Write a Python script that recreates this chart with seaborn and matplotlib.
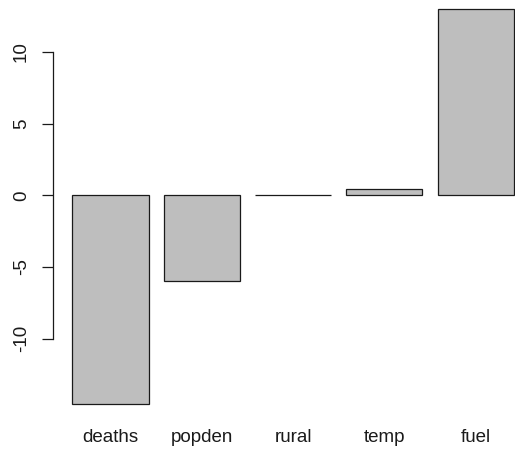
import matplotlib
matplotlib.use("Agg")
import matplotlib.pyplot as plt
import seaborn as sns
import pandas as pd

categories = ["deaths", "popden", "rural", "temp", "fuel"]
values = [-14.55, -6.0, 0.0, 0.42, 13.0]
yticks = [-10, -5, 0, 5, 10]

df = pd.DataFrame({"var": categories, "coef": values})

sns.set_style("white")
plt.rcParams["font.family"] = ["Liberation Sans", "DejaVu Sans"]

W, H = 515, 450
fig = plt.figure(figsize=(W / 100, H / 100), dpi=100)
axes_bottom_px = 415
ax = fig.add_axes([0, (H - axes_bottom_px) / H, 1, axes_bottom_px / H])

sns.barplot(data=df, x="var", y="coef", color="#BEBEBE", saturation=1,
            edgecolor="#1a1a1a", linewidth=0.9, width=1 / 1.2, ax=ax)

x0_px, dx_px = 110.5, 91.3
ax.set_xlim(-x0_px / dx_px, (W - x0_px) / dx_px)
y0_px, dy_px = 195.3, 14.33
ax.set_ylim((y0_px - axes_bottom_px) / dy_px, y0_px / dy_px)

for s in ["top", "right", "bottom"]:
    ax.spines[s].set_visible(False)
ax.spines["left"].set_position(("data", (53.3 - x0_px) / dx_px))
ax.spines["left"].set_bounds(min(yticks), max(yticks))
ax.spines["left"].set_color("#1a1a1a")
ax.spines["left"].set_linewidth(0.9)

ax.set_yticks(yticks)
ax.set_yticklabels([str(t) for t in yticks], rotation=90, va="center")
ax.tick_params(axis="y", left=True, length=7.7, width=0.9, color="#1a1a1a",
               pad=9, labelsize=13.5, labelcolor="#1a1a1a", direction="out")
ax.tick_params(axis="x", bottom=False, length=0, pad=10, labelsize=13.5,
               labelcolor="#1a1a1a")
ax.set_xlabel("")
ax.set_ylabel("")
ax.grid(False)

fig.savefig("out.png", dpi=100)
